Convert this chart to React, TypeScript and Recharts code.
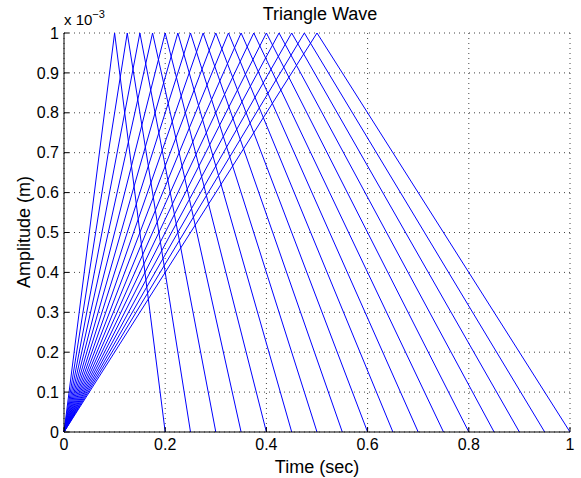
import { LineChart, Line, XAxis, YAxis, CartesianGrid } from "recharts";

const peakTimes = [
  0.1, 0.125, 0.15, 0.175, 0.2, 0.225, 0.25, 0.275, 0.3, 0.325, 0.35, 0.375, 0.4, 0.425,
  0.45, 0.475, 0.5,
];
const endTimes = [
  0.2, 0.25, 0.3, 0.35, 0.4, 0.45, 0.5, 0.55, 0.6, 0.65, 0.7, 0.75, 0.8, 0.85, 0.9, 0.95, 1.0,
];
const amplitude = 0.001;

const xTicks = [0, 0.2, 0.4, 0.6, 0.8, 1];
const yTicks = [0, 0.0001, 0.0002, 0.0003, 0.0004, 0.0005, 0.0006, 0.0007, 0.0008, 0.0009, 0.001];

const triangles = peakTimes.map((p, i) => [
  { t: 0, a: 0 },
  { t: p, a: amplitude },
  { t: endTimes[i], a: 0 },
]);

const font = "'Liberation Sans', Arial, Helvetica, sans-serif";

const fmtY = (v: number) => parseFloat((v * 1000).toFixed(1)).toString();
const fmtX = (v: number) => parseFloat(v.toFixed(1)).toString();

export default function App() {
  return (
    <div style={{ position: "absolute", left: 0, top: 0, width: 581, height: 478, background: "#fff", fontFamily: font }}>
      <LineChart width={581} height={478} margin={{ top: 33, right: 11, bottom: 0, left: 0 }}>
        <CartesianGrid stroke="#444" strokeDasharray="1 4" />
        <XAxis
          dataKey="t"
          type="number"
          domain={[0, 1]}
          ticks={xTicks}
          tickFormatter={fmtX}
          height={46}
          tickSize={-5}
          tickMargin={12}
          stroke="#000"
          tick={{ fill: "#000", fontSize: 16, fontFamily: font }}
          allowDuplicatedCategory={false}
        />
        <YAxis
          type="number"
          domain={[0, amplitude]}
          ticks={yTicks}
          tickFormatter={fmtY}
          width={64}
          tickSize={-5}
          tickMargin={10}
          stroke="#000"
          tick={{ fill: "#000", fontSize: 16, fontFamily: font }}
        />
        {triangles.map((d, i) => (
          <Line
            key={i}
            data={d}
            dataKey="a"
            stroke="#0000ff"
            strokeWidth={1}
            dot={false}
            activeDot={false}
            isAnimationActive={false}
            type="linear"
          />
        ))}
        <text x={320} y={20} textAnchor="middle" fontSize={18} fontFamily={font} fill="#000">
          Triangle Wave
        </text>
        <text x={317} y={473} textAnchor="middle" fontSize={18} fontFamily={font} fill="#000">
          Time (sec)
        </text>
        <text
          x={0}
          y={0}
          transform="translate(30, 232) rotate(-90)"
          textAnchor="middle"
          fontSize={18}
          fontFamily={font}
          fill="#000"
        >
          Amplitude (m)
        </text>
        <text x={64} y={25} fontSize={15} fontFamily={font} fill="#000">
          x 10
          <tspan fontSize={11} dy={-7}>
            −3
          </tspan>
        </text>
      </LineChart>
    </div>
  );
}
